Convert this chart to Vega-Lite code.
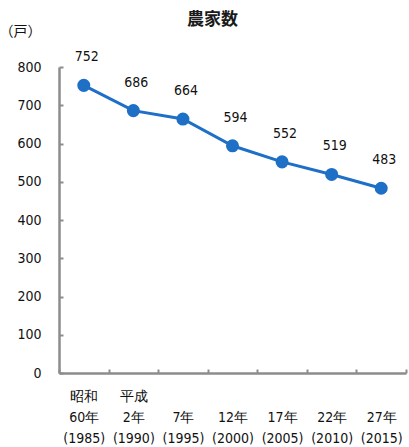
{
  "$schema": "https://vega.github.io/schema/vega-lite/v6.json",
  "autosize": "none",
  "width": 347,
  "height": 306,
  "padding": {"left": 59, "top": 67, "right": 3, "bottom": 74},
  "background": "white",
  "title": {
    "text": "農家数",
    "anchor": "middle",
    "dx": -20,
    "offset": -5,
    "fontSize": 17,
    "fontWeight": "bold",
    "font": "Noto Sans CJK JP",
    "color": "#1a1a1a"
  },
  "config": {
    "view": {"stroke": null},
    "font": "Liberation Sans Narrow, DejaVu Sans Condensed, Liberation Sans"
  },
  "data": {
    "values": [
      {"period": "昭和|60年|(1985)", "households": 752},
      {"period": "平成|2年|(1990)", "households": 686},
      {"period": " |7年|(1995)", "households": 664},
      {"period": " |12年|(2000)", "households": 594},
      {"period": " |17年|(2005)", "households": 552},
      {"period": " |22年|(2010)", "households": 519},
      {"period": " |27年|(2015)", "households": 483}
    ]
  },
  "encoding": {
    "x": {
      "field": "period",
      "type": "ordinal",
      "sort": null,
      "scale": {"paddingInner": 0, "paddingOuter": 0},
      "axis": {
        "title": null,
        "labelAngle": 0,
        "labelExpr": "datum.value ? split(datum.value, '|') : ''",
        "labelLineHeight": 21,
        "labelFontSize": 14,
        "labelColor": "#111111",
        "labelPadding": 20,
        "tickBand": "extent",
        "tickSize": -4,
        "tickColor": "#8c8c8c",
        "tickWidth": 2,
        "domainColor": "#8c8c8c",
        "domainWidth": 2.5
      }
    },
    "y": {
      "field": "households",
      "type": "quantitative",
      "scale": {"domain": [0, 800], "nice": false},
      "axis": {
        "title": "（戸）",
        "titleAngle": 0,
        "titleX": -60,
        "titleY": -29,
        "titleAlign": "left",
        "titleFontSize": 14,
        "titleFontWeight": "normal",
        "titleFont": "Noto Sans CJK JP",
        "titleColor": "#111111",
        "values": [0, 100, 200, 300, 400, 500, 600, 700, 800],
        "grid": false,
        "labelFontSize": 14,
        "labelColor": "#111111",
        "labelPadding": 22,
        "tickSize": -4,
        "tickColor": "#8c8c8c",
        "tickWidth": 2,
        "domainColor": "#8c8c8c",
        "domainWidth": 2.5
      }
    }
  },
  "layer": [
    {
      "mark": {"type": "line", "color": "#1e6fc6", "strokeWidth": 3}
    },
    {
      "mark": {"type": "point", "filled": true, "opacity": 1, "color": "#1e6fc6", "size": 170}
    },
    {
      "mark": {"type": "text", "dy": -28, "dx": 3, "fontSize": 14, "color": "#111111"},
      "encoding": {"text": {"field": "households", "type": "quantitative"}}
    }
  ]
}
